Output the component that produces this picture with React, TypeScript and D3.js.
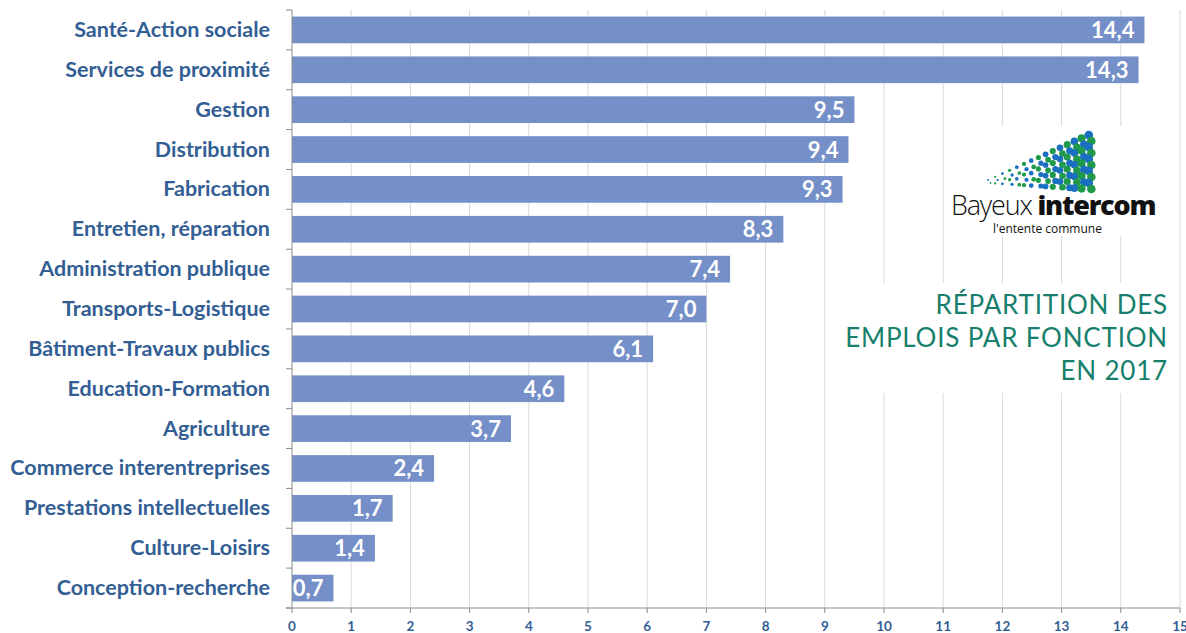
import React, { useEffect, useRef } from 'react';
import * as d3 from 'd3';

const categories = [
  'Santé-Action sociale',
  'Services de proximité',
  'Gestion',
  'Distribution',
  'Fabrication',
  'Entretien, réparation',
  'Administration publique',
  'Transports-Logistique',
  'Bâtiment-Travaux publics',
  'Education-Formation',
  'Agriculture',
  'Commerce interentreprises',
  'Prestations intellectuelles',
  'Culture-Loisirs',
  'Conception-recherche',
];
const values = [14.4, 14.3, 9.5, 9.4, 9.3, 8.3, 7.4, 7.0, 6.1, 4.6, 3.7, 2.4, 1.7, 1.4, 0.7];
const xTicks = d3.range(0, 16);
const titleLines = ['RÉPARTITION DES', 'EMPLOIS PAR FONCTION', 'EN 2017'];

const W = 1186;
const H = 633;

const App: React.FC = () => {
  const svgRef = useRef<SVGSVGElement>(null);

  useEffect(() => {
    document.body.style.margin = '0';
    document.documentElement.style.overflow = 'hidden';
    if (!svgRef.current) return;
    const svg = d3.select(svgRef.current);
    svg.selectAll('*').remove();

    const left = 292;
    const right = 1180;
    const top = 10;
    const bottom = 608;

    const x = d3.scaleLinear().domain([0, 15]).range([left, right]);
    const y = d3.scaleBand<string>().domain(categories).range([top, bottom]).paddingInner(0.33).paddingOuter(0.165);

    // vertical gridlines
    svg.append('g')
      .selectAll('line')
      .data(xTicks.slice(1))
      .enter()
      .append('line')
      .attr('x1', d => x(d))
      .attr('x2', d => x(d))
      .attr('y1', top)
      .attr('y2', bottom)
      .attr('stroke', '#d9d9d9')
      .attr('stroke-width', 1);

    // bars
    svg.append('g')
      .selectAll('rect')
      .data(values)
      .enter()
      .append('rect')
      .attr('x', x(0))
      .attr('y', (d, i) => y(categories[i])!)
      .attr('width', d => x(d) - x(0))
      .attr('height', y.bandwidth())
      .attr('fill', '#7590c8');

    // value labels
    svg.append('g')
      .selectAll('text')
      .data(values)
      .enter()
      .append('text')
      .attr('x', d => x(d) - 10)
      .attr('y', (d, i) => y(categories[i])! + y.bandwidth() / 2 + 8)
      .attr('text-anchor', 'end')
      .attr('font-family', 'Lato, "Open Sans", sans-serif')
      .attr('font-weight', 700)
      .attr('font-size', 22)
      .attr('fill', '#ffffff')
      .text(d => d.toFixed(1).replace('.', ','));

    // y axis line + ticks
    svg.append('line')
      .attr('x1', left).attr('x2', left).attr('y1', top).attr('y2', bottom)
      .attr('stroke', '#8c8c8c').attr('stroke-width', 1);
    const bandStep = (bottom - top) / categories.length;
    svg.append('g')
      .selectAll('line')
      .data(d3.range(0, categories.length + 1))
      .enter()
      .append('line')
      .attr('x1', left - 6).attr('x2', left)
      .attr('y1', d => top + d * bandStep)
      .attr('y2', d => top + d * bandStep)
      .attr('stroke', '#8c8c8c');

    // x axis line + ticks
    svg.append('line')
      .attr('x1', left - 6).attr('x2', right).attr('y1', bottom).attr('y2', bottom)
      .attr('stroke', '#8c8c8c').attr('stroke-width', 1);
    svg.append('g')
      .selectAll('line')
      .data(xTicks)
      .enter()
      .append('line')
      .attr('x1', d => x(d)).attr('x2', d => x(d))
      .attr('y1', bottom).attr('y2', bottom + 5)
      .attr('stroke', '#8c8c8c');
    svg.append('g')
      .selectAll('text')
      .data(xTicks)
      .enter()
      .append('text')
      .attr('x', d => x(d))
      .attr('y', 631)
      .attr('text-anchor', 'middle')
      .attr('font-family', 'Lato, "Open Sans", sans-serif')
      .attr('font-weight', 700)
      .attr('font-size', 13.5)
      .attr('fill', '#335e94')
      .text(d => d);

    // category labels
    svg.append('g')
      .selectAll('text')
      .data(categories)
      .enter()
      .append('text')
      .attr('x', 270)
      .attr('y', d => y(d)! + y.bandwidth() / 2 + 7)
      .attr('text-anchor', 'end')
      .attr('font-family', 'Lato, "Open Sans", sans-serif')
      .attr('font-weight', 700)
      .attr('font-size', 21.5)
      .attr('fill', '#335e94')
      .text(d => d);

    // logo
    const logo = svg.append('g');
    logo.append('rect').attr('x', 945).attr('y', 126).attr('width', 215).attr('height', 110).attr('fill', '#ffffff');
    const cols = 15;
    const dots: { cx: number; cy: number; r: number; c: string }[] = [];
    for (let c = 0; c < cols; c++) {
      const t = c / (cols - 1);
      const rows = Math.round(2 + t * 8);
      const colX = 988 + c * 7.2;
      const topY = 180 - t * 45;
      const bottomY = 183 + t * 6;
      for (let r = 0; r < rows; r++) {
        const ry = rows === 1 ? topY : topY + (bottomY - topY) * (r / (rows - 1));
        dots.push({ cx: colX + (r % 2) * 2.5, cy: ry, r: 0.9 + t * 3.4, c: (r + c) % 2 === 0 ? '#1a6fc1' : '#1f9a4a' });
      }
    }
    logo.selectAll('circle')
      .data(dots)
      .enter()
      .append('circle')
      .attr('cx', d => d.cx)
      .attr('cy', d => d.cy)
      .attr('r', d => d.r)
      .attr('fill', d => d.c);
    const brand = logo.append('text')
      .attr('x', 951)
      .attr('y', 215)
      .attr('font-family', '"Open Sans", sans-serif')
      .attr('font-size', 27)
      .attr('letter-spacing', -1.2)
      .attr('fill', '#111111');
    brand.append('tspan').attr('font-weight', 300).text('Bayeux ');
    brand.append('tspan').attr('font-weight', 800).text('intercom');
    logo.append('text')
      .attr('x', 993)
      .attr('y', 233)
      .attr('font-family', '"Open Sans", sans-serif')
      .attr('font-size', 12)
      .attr('fill', '#111111')
      .text("l'entente commune");

    // title
    const title = svg.append('g');
    title.append('rect').attr('x', 838).attr('y', 283).attr('width', 338).attr('height', 110).attr('fill', '#ffffff');
    title.selectAll('text')
      .data(titleLines)
      .enter()
      .append('text')
      .attr('x', 1168)
      .attr('y', (d, i) => 314 + i * 33)
      .attr('text-anchor', 'end')
      .attr('font-family', 'Lato, "Noto Sans", sans-serif')
      .attr('font-weight', 400)
      .attr('font-size', 26)
      .attr('letter-spacing', 0.8)
      .attr('fill', '#16806c')
      .text(d => d);
  }, []);

  return (
    <div style={{ position: 'fixed', left: 0, top: 0, width: W, height: H, overflow: 'hidden' }}>
      <svg ref={svgRef} width={W} height={H} style={{ display: 'block', background: '#ffffff' }} />
    </div>
  );
};

export default App;
